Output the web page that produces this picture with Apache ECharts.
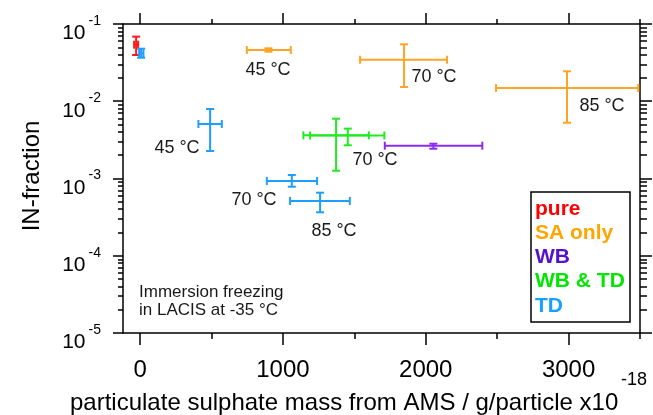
<!DOCTYPE html>
<html><head><meta charset="utf-8">
<script src="https://cdn.jsdelivr.net/npm/echarts@6/dist/echarts.min.js"></script>
<style>html,body{margin:0;padding:0;background:#fff}#c{width:653px;height:415px}</style>
</head><body><div id="c"></div>
<script>
// ---- data ----
const groupNames = ['pure', 'SA only', 'WB', 'WB & TD', 'TD'];
const pointGroup = ['pure', 'TD', 'SA only', 'SA only', 'SA only', 'TD', 'TD', 'TD', 'WB & TD', 'WB & TD', 'WB'];
const massValues = [-28, 7, 898, 1848, 2989, 490, 1062, 1260, 1372, 1454, 2053];
const massLow    = [-42, -7, 747, 1540, 2492, 408, 887, 1050, 1143, 1190, 1713];
const massHigh   = [-14, 23, 1055, 2149, 3488, 572, 1239, 1468, 1601, 1710, 2396];
const inFraction     = [0.054, 0.0418, 0.0461, 0.0345, 0.01484, 0.00508, 0.000929, 0.000512, 0.00362, 0.0036, 0.00266];
const inFractionLow  = [0.0397, 0.0366, 0.0438, 0.0153, 0.00527, 0.00227, 0.000783, 0.000365, 0.00126, 0.00269, 0.00243];
const inFractionHigh = [0.0686, 0.0479, 0.0484, 0.0546, 0.0244, 0.00794, 0.00111, 0.000655, 0.00594, 0.00442, 0.00282];
const xTickValues = [0, 1000, 2000, 3000];
const xMinorTickValues = [500, 1500, 2500, 3500];
const yTickExponents = [-5, -4, -3, -2, -1];

// ---- styles ----
const barColors = {'pure':'#ff1a1a','SA only':'#ffa424','WB':'#8b2cf0','WB & TD':'#22ea22','TD':'#1e9eff'};
const legendColors = {'pure':'#ff0000','SA only':'#ffa500','WB':'#5512cc','WB & TD':'#00e600','TD':'#16a0ff'};
const FONT = '"Liberation Sans", Arial, sans-serif';

const yMajor = yTickExponents.map(e => Math.pow(10, e));
const yMinor = [];
yTickExponents.slice(0, -1).forEach(e => { for (let k = 2; k <= 9; k++) yMinor.push(k * Math.pow(10, e)); });

function renderErr(params, api) {
  const x = api.value(0), y = api.value(1);
  const xl = api.value(2), xh = api.value(3), yl = api.value(4), yh = api.value(5);
  const pL = api.coord([xl, y]), pR = api.coord([xh, y]);
  const pT = api.coord([x, yh]), pB = api.coord([x, yl]);
  const color = api.visual('color');
  const cap = 4;
  const st = {stroke: color, lineWidth: 2, fill: null};
  const seg = (x1, y1, x2, y2) => ({type: 'line', shape: {x1, y1, x2, y2}, style: st});
  return {type: 'group', children: [
    seg(pL[0], pL[1], pR[0], pR[1]),
    seg(pL[0], pL[1] - cap, pL[0], pL[1] + cap),
    seg(pR[0], pR[1] - cap, pR[0], pR[1] + cap),
    seg(pT[0], pT[1], pB[0], pB[1]),
    seg(pT[0] - cap, pT[1], pT[0] + cap, pT[1]),
    seg(pB[0] - cap, pB[1], pB[0] + cap, pB[1])
  ]};
}

const series = groupNames.map(g => {
  const data = [];
  pointGroup.forEach((pg, i) => {
    if (pg === g) data.push([massValues[i], inFraction[i], massLow[i], massHigh[i], inFractionLow[i], inFractionHigh[i]]);
  });
  return {
    type: 'custom', name: g, renderItem: renderErr, clip: false,
    itemStyle: {color: barColors[g]},
    encode: {x: [0, 2, 3], y: [1, 4, 5]},
    data, z: 5
  };
});

const lineStyle = {color: '#000', width: 1.5};
const xBase = {type: 'value', min: -120, max: 3500, splitLine: {show: false}};
const yBase = {type: 'log', logBase: 10, min: 1e-5, max: 1e-1, splitLine: {show: false}};

const option = {
  animation: false,
  backgroundColor: '#fff',
  grid: {left: 123, right: 13, top: 24, bottom: 82},
  xAxis: [
    Object.assign({}, xBase, {position: 'bottom',
      axisLine: {show: true, onZero: false, lineStyle},
      axisTick: {show: true, length: 12, customValues: xTickValues, lineStyle},
      axisLabel: {show: true, customValues: xTickValues, margin: 25, fontSize: 24, fontFamily: FONT, color: '#000',
        formatter: v => String(v)}}),
    Object.assign({}, xBase, {position: 'bottom',
      axisLine: {show: false, onZero: false},
      axisTick: {show: true, length: 6, customValues: xMinorTickValues, lineStyle},
      axisLabel: {show: false}}),
    Object.assign({}, xBase, {position: 'top',
      axisLine: {show: true, onZero: false, lineStyle},
      axisTick: {show: true, length: 11, customValues: xTickValues, lineStyle},
      axisLabel: {show: false}}),
    Object.assign({}, xBase, {position: 'top',
      axisLine: {show: false, onZero: false},
      axisTick: {show: true, length: 5, customValues: xMinorTickValues, lineStyle},
      axisLabel: {show: false}})
  ],
  yAxis: [
    Object.assign({}, yBase, {position: 'left',
      axisLine: {show: true, onZero: false, lineStyle},
      axisTick: {show: true, length: 10, customValues: yMajor, lineStyle},
      axisLabel: {show: true, customValues: yMajor, margin: 22,
        formatter: v => '{b|10}{s|' + Math.round(Math.log10(v)) + '}',
        rich: {
          b: {fontSize: 21, fontFamily: FONT, color: '#000', padding: [19, 0, 0, 0]},
          s: {fontSize: 14, fontFamily: FONT, color: '#000', verticalAlign: 'top', padding: [10, 0, 0, 3]}
        }}}),
    Object.assign({}, yBase, {position: 'left',
      axisLine: {show: false, onZero: false},
      axisTick: {show: true, length: 5, customValues: yMinor, lineStyle},
      axisLabel: {show: false}}),
    Object.assign({}, yBase, {position: 'right',
      axisLine: {show: true, onZero: false, lineStyle},
      axisTick: {show: true, length: 12, customValues: yMajor, lineStyle},
      axisLabel: {show: false}}),
    Object.assign({}, yBase, {position: 'right',
      axisLine: {show: false, onZero: false},
      axisTick: {show: true, length: 7, customValues: yMinor, lineStyle},
      axisLabel: {show: false}})
  ],
  series,
  graphic: [
    {type: 'text', x: 32, y: 176, rotation: Math.PI / 2,
      style: {text: 'IN-fraction', fontSize: 24, fontFamily: FONT, fill: '#000', align: 'center', verticalAlign: 'middle'}},
    {type: 'text', x: 70, y: 403,
      style: {text: 'particulate sulphate mass from AMS / g/particle x10', fontSize: 24, fontFamily: FONT, fill: '#000', align: 'left', verticalAlign: 'middle'}},
    {type: 'text', x: 621, y: 380,
      style: {text: '-18', fontSize: 18, fontFamily: FONT, fill: '#000', align: 'left', verticalAlign: 'middle'}},
    {type: 'text', x: 268, y: 70, style: {text: '45 °C', fontSize: 18, fontFamily: FONT, fill: '#1a1a1a', align: 'center', verticalAlign: 'middle'}},
    {type: 'text', x: 177, y: 148, style: {text: '45 °C', fontSize: 18, fontFamily: FONT, fill: '#1a1a1a', align: 'center', verticalAlign: 'middle'}},
    {type: 'text', x: 434, y: 77, style: {text: '70 °C', fontSize: 18, fontFamily: FONT, fill: '#1a1a1a', align: 'center', verticalAlign: 'middle'}},
    {type: 'text', x: 602, y: 106, style: {text: '85 °C', fontSize: 18, fontFamily: FONT, fill: '#1a1a1a', align: 'center', verticalAlign: 'middle'}},
    {type: 'text', x: 375, y: 160, style: {text: '70 °C', fontSize: 18, fontFamily: FONT, fill: '#1a1a1a', align: 'center', verticalAlign: 'middle'}},
    {type: 'text', x: 254, y: 200, style: {text: '70 °C', fontSize: 18, fontFamily: FONT, fill: '#1a1a1a', align: 'center', verticalAlign: 'middle'}},
    {type: 'text', x: 334, y: 231, style: {text: '85 °C', fontSize: 18, fontFamily: FONT, fill: '#1a1a1a', align: 'center', verticalAlign: 'middle'}},
    {type: 'text', x: 139, y: 292, style: {text: 'Immersion freezing', fontSize: 17, fontFamily: FONT, fill: '#1a1a1a', align: 'left', verticalAlign: 'middle'}},
    {type: 'text', x: 139, y: 310, style: {text: 'in LACIS at -35 °C', fontSize: 17, fontFamily: FONT, fill: '#1a1a1a', align: 'left', verticalAlign: 'middle'}},
    {type: 'rect', shape: {x: 531, y: 192, width: 99, height: 130}, style: {fill: '#fff', stroke: '#000', lineWidth: 1.5}, z: 10},
  ].concat(groupNames.map((g, i) => ({
    type: 'text', x: 535, y: 209 + i * 24.2, z: 11,
    style: {text: g, fontSize: 21, fontWeight: 'bold', fontFamily: FONT, fill: legendColors[g], align: 'left', verticalAlign: 'middle'}
  })))
};

const chart = echarts.init(document.getElementById('c'), null, {renderer: 'canvas'});
chart.setOption(option);
</script>
</body></html>
